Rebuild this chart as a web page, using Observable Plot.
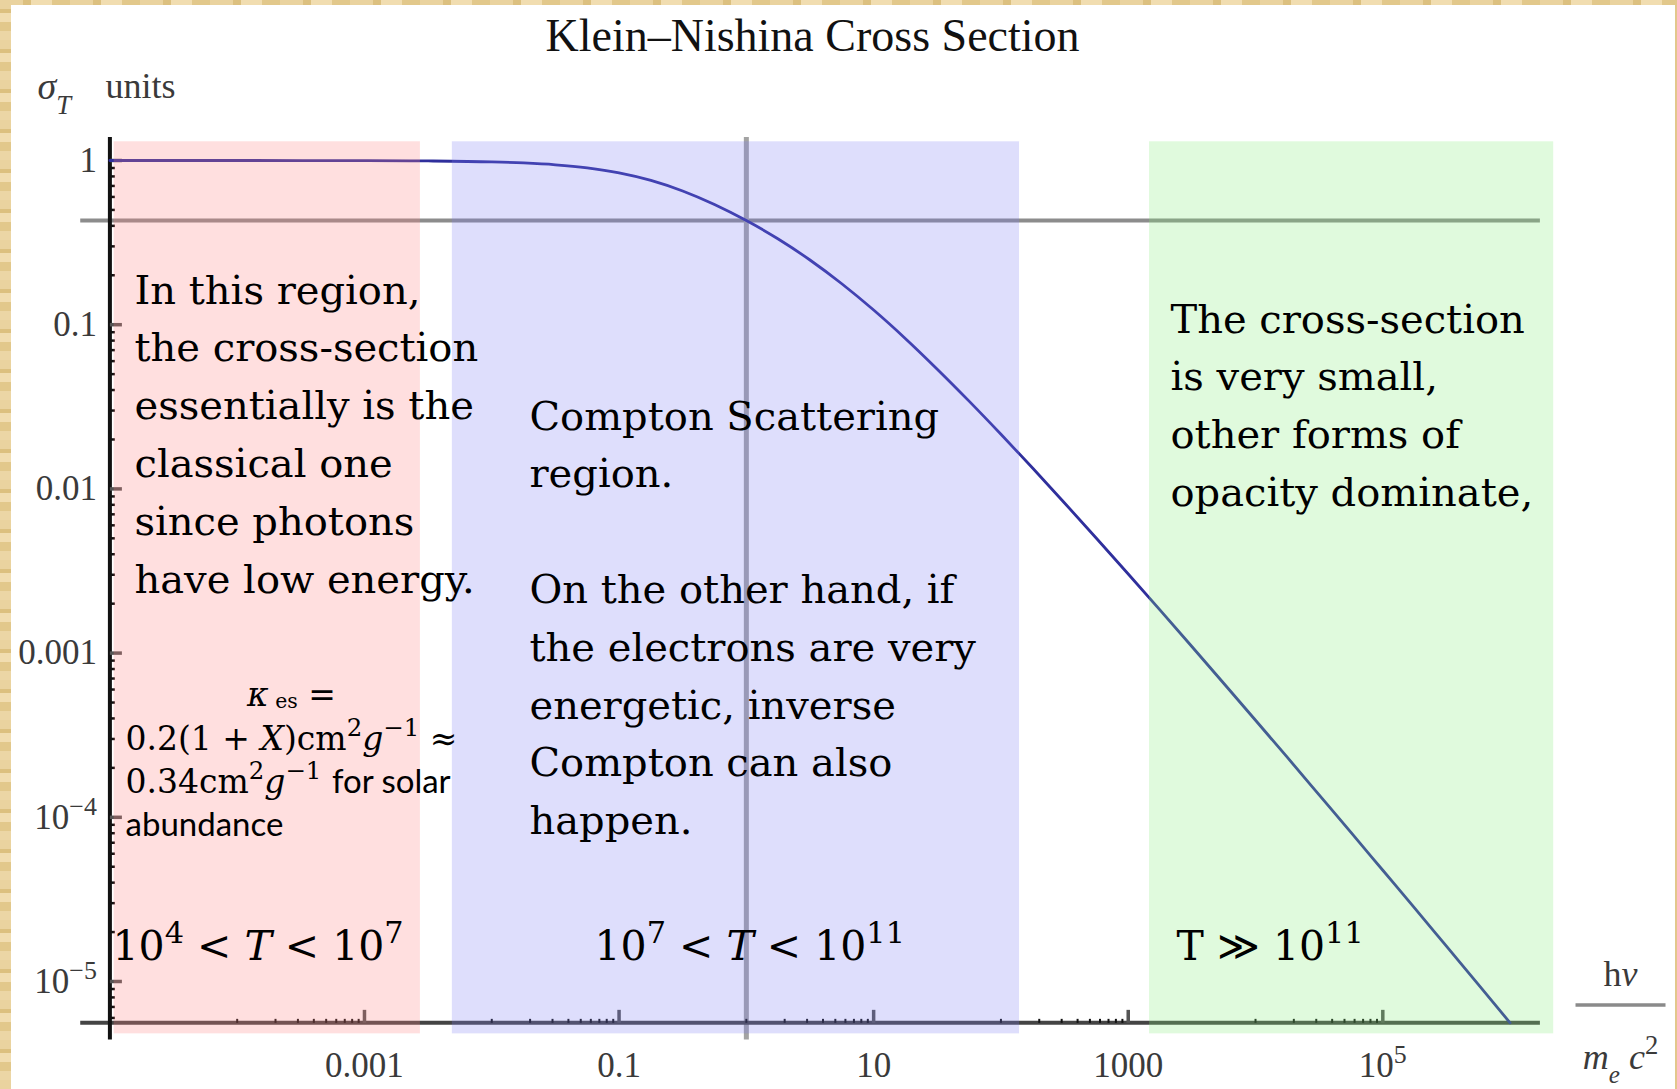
<!DOCTYPE html>
<html>
<head>
<meta charset="utf-8">
<title>Klein–Nishina Cross Section</title>
<script src="https://cdn.jsdelivr.net/npm/d3@7"></script>
<script src="https://cdn.jsdelivr.net/npm/@observablehq/plot@0.6"></script>
<style>
  html, body { margin: 0; padding: 0; }
  body { width: 1677px; height: 1089px; overflow: hidden; position: relative; background: #fff; }
  #chart { position: absolute; left: 0; top: 0; }
  .paper { position: absolute; background-color: #e6cd93; }
  .paper.left { left: 0; top: 0; width: 11px; height: 1089px;
    background-image: repeating-linear-gradient(180deg, #ead39f 0 9px, #dcc07f 9px 13px, #f1ddb0 13px 22px, #e2c88b 22px 31px, #ecd6a5 31px 40px); }
  .paper.top { left: 0; top: 0; width: 1677px; height: 5px;
    background-image: repeating-linear-gradient(90deg, #ead39f 0 23px, #dcc07f 23px 31px, #f1ddb0 31px 52px, #e2c88b 52px 70px); }
  .paper.right { right: 0; top: 0; width: 2px; height: 1089px; background: #e2c78c; }
</style>
</head>
<body>
<div id="chart"></div>
<div class="paper left"></div>
<div class="paper top"></div>
<div class="paper right"></div>
<script>
// Photon energy hν/(m_e c²) and the Klein–Nishina cross section in units of σ_T
const energy = [1e-5, 1e-4, 1e-3, 0.00316, 0.01, 0.0178, 0.0316, 0.0562, 0.1, 0.178, 0.316, 0.562,
  1, 1.78, 3.16, 5.62, 10, 17.8, 31.6, 56.2, 100, 178, 316, 562, 1000, 1780, 3160, 5620,
  1e4, 1.78e4, 3.16e4, 5.62e4, 1e5, 1.78e5, 3.16e5, 5.62e5, 1e6];
const sigma = [1.0, 0.9998, 0.998, 0.9937, 0.9805, 0.966, 0.9416, 0.902, 0.8413, 0.757, 0.6526, 0.5397,
  0.4307, 0.3326, 0.2478, 0.1776, 0.1228, 0.0822, 0.0536, 0.03424, 0.02152, 0.01336, 0.00821, 0.00501,
  0.003034, 0.001828, 0.001097, 0.000655, 0.00039, 0.0002315, 0.000137, 0.0000809, 0.0000476,
  0.000028, 0.0000164, 0.0000096, 0.0000056];

// Guide lines crossing at hν = m_e c²
const guideEnergy = 1;
const guideSigma = 0.4307;

// Axis extents and crossing point
const xExtent = [5.9e-6, 1.73e6];
const yExtent = [4.4e-6, 1.38];
const yAxisAt = 1e-5;

// Ticks
const xMajor = [1e-3, 1e-1, 1e1, 1e3, 1e5];
const xMajorLabel = ["0.001", "0.1", "10", "1000", "10^{5}"];
const yMajor = [1, 1e-1, 1e-2, 1e-3, 1e-4, 1e-5];
const yMajorLabel = ["1", "0.1", "0.01", "0.001", "10^{−4}", "10^{−5}"];
const subSteps = [1, 2, 3, 4, 5, 6, 7, 8, 9];
const yDecades = [1e-1, 1e-2, 1e-3, 1e-4, 1e-5, 1e-6];

// Shaded temperature regimes
const regionName = ["classical", "compton", "relativistic"];
const regionStart = [1.08e-5, 0.0049, 1470];
const regionEnd = [0.00275, 140, 2.2e6];
const regionTop = 1.3;
const regionBottom = 4.8e-6;
const regionColor = ["#ff8080", "#7b7bf3", "#84ec76"];

const curve = energy.map((e, i) => ({energy: e, sigma: sigma[i]}));
const regions = regionName.map((name, i) => ({name, x1: regionStart[i], x2: regionEnd[i], color: regionColor[i]}));
const xAxisAt = d3.min(sigma);
// minor ticks fill the decade just below each labelled one
const xMinor = xMajor.flatMap(m => subSteps.map(k => m * k / 10));
const yMinor = yDecades.flatMap(m => subSteps.slice(1).map(k => m * k)).filter(v => v > xAxisAt && v < 1);

// Tick glyphs: short strokes drawn from the axis inward; length = dot radius
const tickUp = {draw(ctx, size) { const l = Math.sqrt(size / Math.PI); ctx.moveTo(0, 0); ctx.lineTo(0, -l); }};
const tickRight = {draw(ctx, size) { const l = Math.sqrt(size / Math.PI); ctx.moveTo(0, 0); ctx.lineTo(l, 0); }};

const serif = "'Liberation Serif', 'Times New Roman', serif";
const book = "'DejaVu Serif', serif";

function note(text, dx, dy, options = {}) {
  return Plot.text([text], {
    text: d => d, frameAnchor: "top-left", textAnchor: "start", lineAnchor: "top",
    dx, dy, fontFamily: book, fontSize: 40, fill: "#000", ...options
  });
}

const svg = Plot.plot({
  width: 1677,
  height: 1089,
  margin: 0,
  x: {type: "log", domain: [1e-5, 1e6], range: [109.4, 1509.6], axis: null},
  y: {type: "log", domain: [1e-5, 1], range: [981, 160], axis: null},
  marks: [
    // guides through σ(1)
    Plot.ruleY([guideSigma], {x1: () => xExtent[0], x2: () => xExtent[1], stroke: "#8c8c8c", strokeWidth: 4}),
    Plot.ruleX([guideEnergy], {y1: () => yExtent[0], y2: () => yExtent[1], stroke: "#a3a3a3", strokeWidth: 5}),
    // axes
    Plot.ruleY([xAxisAt], {x1: () => xExtent[0], x2: () => xExtent[1], stroke: "#444", strokeWidth: 4}),
    Plot.ruleX([yAxisAt], {y1: () => yExtent[0], y2: () => yExtent[1], stroke: "#111", strokeWidth: 4}),
    Plot.dot(xMinor, {x: d => d, y: () => xAxisAt, symbol: tickUp, r: 4, fill: "none", stroke: "#111", strokeWidth: 2}),
    Plot.dot(xMajor, {x: d => d, y: () => xAxisAt, symbol: tickUp, r: 13, fill: "none", stroke: "#555", strokeWidth: 3.5}),
    Plot.dot(yMinor, {x: () => yAxisAt, y: d => d, symbol: tickRight, r: 5, fill: "none", stroke: "#111", strokeWidth: 2.5}),
    Plot.dot(yMajor, {x: () => yAxisAt, y: d => d, symbol: tickRight, r: 12, fill: "none", stroke: "#555", strokeWidth: 3.5}),
    Plot.text(xMajor, {x: d => d, y: () => xAxisAt, text: (d, i) => xMajorLabel[i], dy: 43,
      fontFamily: serif, fontSize: 35, fill: "#3a3a3a"}),
    Plot.text(yMajor, {x: () => yAxisAt, y: d => d, text: (d, i) => yMajorLabel[i], textAnchor: "end", dx: -13,
      fontFamily: serif, fontSize: 35, fill: "#3a3a3a"}),
    // cross section
    Plot.line(curve, {x: "energy", y: "sigma", stroke: "#2f2f9c", strokeWidth: 2.8, curve: "monotone-x"}),
    // regimes
    Plot.rect(regions, {x1: "x1", x2: "x2", y1: () => regionBottom, y2: () => regionTop, fill: "color", fillOpacity: 0.25}),
    // title and axis labels
    Plot.text(["Klein–Nishina Cross Section"], {text: d => d, frameAnchor: "top-left", textAnchor: "middle",
      lineAnchor: "top", dx: 812, dy: 18, fontFamily: serif, fontSize: 46, fill: "#111"}),
    note("~{σ}_~{T}", 37, 72, {fontFamily: serif, fontSize: 38, fill: "#3a3a3a"}),
    note("units", 105, 72, {fontFamily: serif, fontSize: 36, fill: "#3a3a3a"}),
    note("h~{ν}", 1620, 960, {fontFamily: serif, fontSize: 36, fill: "#3a3a3a", textAnchor: "middle"}),
    note("~{m}_~{e} ~{c}^{2}", 1620, 1043, {fontFamily: serif, fontSize: 36, fill: "#3a3a3a", textAnchor: "middle"}),
    // annotations
    note("In this region,\nthe cross-section\nessentially is the\nclassical one\nsince photons\nhave low energy.", 134, 262, {lineHeight: 1.445}),
    note("~{κ}.{ es} =", 291, 682, {fontSize: 33, textAnchor: "middle"}),
    note("0.2(1 + ~{X})cm^{2}~{g}^{−1} ≈\n0.34cm^{2}~{g}^{−1} !{for solar}\n!{abundance}", 125, 719, {fontSize: 33, lineHeight: 1.3}),
    note("10^{4} < ~{T} < 10^{7}", 112, 930, {fontSize: 41}),
    note("Compton Scattering\nregion.\n\nOn the other hand, if\nthe electrons are very\nenergetic, inverse\nCompton can also\nhappen.", 529, 388, {lineHeight: 1.445}),
    note("10^{7} < ~{T} < 10^{11}", 594, 930, {fontSize: 41}),
    note("The cross-section\nis very small,\nother forms of\nopacity dominate,", 1170, 291, {lineHeight: 1.445}),
    note("T ≫ 10^{11}", 1176, 930, {fontSize: 41})
  ]
});

// Inline markup: ^{} superscript, _{} subscript, .{} shallow subscript, ~ italic, ! sans-serif
function richText(root) {
  const pattern = /([\^_.~!]+)\{([^}]*)\}/g;
  root.querySelectorAll("text, tspan").forEach(node => {
    if (node.children.length) return;
    const s = node.textContent;
    if (!/[\^_.~!]+\{/.test(s)) return;
    node.textContent = "";
    let last = 0, m;
    pattern.lastIndex = 0;
    while ((m = pattern.exec(s))) {
      if (m.index > last) node.appendChild(document.createTextNode(s.slice(last, m.index)));
      const t = document.createElementNS("http://www.w3.org/2000/svg", "tspan");
      const f = m[1];
      if (f.includes("^")) { t.setAttribute("baseline-shift", "super"); t.setAttribute("font-size", "74%"); }
      if (f.includes("_")) { t.setAttribute("baseline-shift", "sub"); t.setAttribute("font-size", "70%"); }
      if (f.includes(".")) { t.setAttribute("baseline-shift", "-0.12em"); t.setAttribute("font-size", "62%"); }
      if (f.includes("~")) t.setAttribute("font-style", "italic");
      if (f.includes("!")) t.setAttribute("font-family", "Lato, 'Open Sans', sans-serif");
      t.textContent = m[2];
      node.appendChild(t);
      last = pattern.lastIndex;
    }
    if (last < s.length) node.appendChild(document.createTextNode(s.slice(last)));
  });
}
richText(svg);
document.getElementById("chart").appendChild(svg);

// Fraction bar under hν
const num = Array.from(svg.querySelectorAll("text")).find(t => t.textContent === "hν");
if (num) {
  const b = num.getBBox();
  const cx = b.x + b.width / 2;
  const ctm = num.getCTM();
  const p = svg.createSVGPoint(); p.x = cx; p.y = b.y + b.height;
  const q = p.matrixTransform(ctm);
  d3.select(svg).append("line")
    .attr("x1", q.x - 45).attr("x2", q.x + 45)
    .attr("y1", q.y + 11).attr("y2", q.y + 11)
    .attr("stroke", "#8a8a8a").attr("stroke-width", 3.5);
}
</script>
</body>
</html>
